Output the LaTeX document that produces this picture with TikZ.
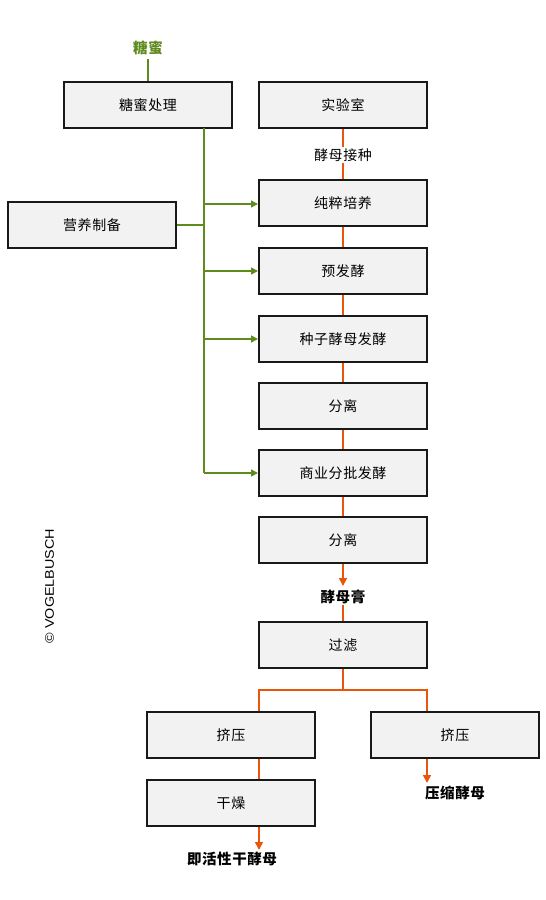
\documentclass[tikz,border=0pt]{standalone}
\usepackage{fontspec}
\setmainfont{Liberation Sans}
\newfontfamily\cjk[LetterSpace=4]{Noto Sans CJK SC}
\usetikzlibrary{arrows.meta}
\definecolor{grn}{HTML}{5E8A1E}
\definecolor{org}{HTML}{E8560C}
\definecolor{boxfill}{HTML}{F2F2F2}
\tikzset{
  stepbox/.style={draw=black!90, line width=2pt, fill=boxfill, minimum width=168pt, minimum height=46pt, inner sep=0pt, font=\cjk\fontsize{14}{16}\selectfont},
  lbl/.style={font=\cjk\bfseries\fontsize{14.5}{16}\selectfont, inner sep=1pt},
  gline/.style={draw=grn, line width=1.5pt},
  oline/.style={draw=org, line width=1.5pt},
  garr/.style={gline, -{Triangle[width=7pt,length=7pt]}},
  oarr/.style={oline, -{Triangle[width=8pt,length=8pt]}},
}
\begin{document}
\begin{tikzpicture}[x=1pt,y=-1pt]
\useasboundingbox (0,0) rectangle (546,900);
% boxes
\node[stepbox] (tmcl) at (148,105) {糖蜜处理};
\node[stepbox] (sys) at (343,105) {实验室};
\node[stepbox] (yy) at (92,225) {营养制备};
\node[stepbox] (cc) at (343,203) {纯粹培养};
\node[stepbox] (yfj) at (343,271) {预发酵};
\node[stepbox] (zz) at (343,339) {种子酵母发酵};
\node[stepbox] (fl1) at (343,406) {分离};
\node[stepbox] (sy) at (343,473) {商业分批发酵};
\node[stepbox] (fl2) at (343,540) {分离};
\node[stepbox] (gl) at (343,645) {过滤};
\node[stepbox] (jy1) at (231,735) {挤压};
\node[stepbox] (jy2) at (455,735) {挤压};
\node[stepbox] (gz) at (231,803) {干燥};
% labels
\node[lbl, text=grn] (tm) at (148,48) {糖蜜};
\node[font=\cjk\fontsize{14}{16}\selectfont, inner sep=1pt] (jmjz) at (343,155) {酵母接种};
\node[lbl] (jmg) at (343,597) {酵母膏};
\node[lbl] (ysjm) at (455,793) {压缩酵母};
\node[lbl] (jhx) at (232,859) {即活性干酵母};
\node[rotate=90, xscale=1.15, font=\fontsize{12.5}{14}\selectfont, inner sep=0pt] (vb) at (49.5,586) {© VOGELBUSCH};
% green connectors
\coordinate (gtop) at (204,128);
\coordinate (gbot) at (204,473);
\draw[gline] (tm.south) ++(0,3) -- (tmcl.north);
\draw[gline] (gtop) -- (gbot);
\draw[gline] (yy.east) -- (204,225);
\draw[garr] (204,204) -- (cc.west |- 0,204);
\draw[garr] (204,271) -- (yfj.west);
\draw[garr] (204,339) -- (zz.west);
\draw[garr] (gbot) -- (sy.west);
% orange connectors
\draw[oline] (sys.south) -- (jmjz.north);
\draw[oline] (jmjz.south) -- (cc.north);
\draw[oline] (cc.south) -- (yfj.north);
\draw[oline] (yfj.south) -- (zz.north);
\draw[oline] (zz.south) -- (fl1.north);
\draw[oline] (fl1.south) -- (sy.north);
\draw[oline] (sy.south) -- (fl2.north);
\draw[oarr] (fl2.south) -- (343,586);
\draw[oline] (jmg.south) -- (gl.north);
\coordinate (split) at (343,690);
\coordinate (sl) at (259,690);
\coordinate (sr) at (427,690);
\draw[oline] (gl.south) -- (split);
\draw[oline] (jy1.north -| sl) -- (sl) -- (sr) -- (jy2.north -| sr);
\draw[oline] (jy1.south -| sl) -- (gz.north -| sl);
\draw[oarr] (gz.south -| sl) -- (259,850);
\draw[oarr] (jy2.south -| sr) -- (427,783);
\end{tikzpicture}
\end{document}
